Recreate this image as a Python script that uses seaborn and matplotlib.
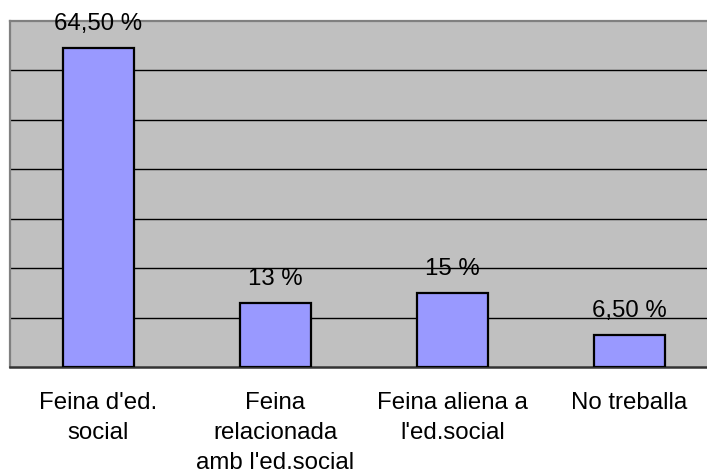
import matplotlib
matplotlib.use("Agg")
import matplotlib.pyplot as plt
import seaborn as sns
import pandas as pd

categories = ["Feina d'ed.\nsocial", "Feina\nrelacionada\namb l'ed.social",
              "Feina aliena a\nl'ed.social", "No treballa"]
values = [64.5, 13, 15, 6.5]
value_labels = ["64,50 %", "13 %", "15 %", "6,50 %"]

sns.set_style("white")
plt.rcParams['font.family'] = ['Liberation Sans', 'DejaVu Sans']
plt.rcParams['text.color'] = 'black'
plt.rcParams['xtick.color'] = 'black'
plt.rcParams['xtick.labelcolor'] = 'black'

fig = plt.figure(figsize=(7.07, 4.76), dpi=100)
ax = fig.add_axes([10/707, (476-367)/476, 708/707, 346/476])
ax.set_facecolor("#C0C0C0")

df = pd.DataFrame({"cat": categories, "val": values})
sns.barplot(data=df, x="cat", y="val", color="#9999FF", width=0.4,
            edgecolor="black", linewidth=1.6, saturation=1, ax=ax, zorder=3)

ax.set_xlim(-0.5, 3.5)
ax.set_ylim(0, 70)
ax.set_yticks(range(10, 70, 10))
ax.yaxis.grid(True, color="black", linewidth=1.0, zorder=1)
ax.set_axisbelow(True)
ax.tick_params(axis="y", left=False, labelleft=False)
ax.set_xlabel("")
ax.set_ylabel("")

ax.set_xticks(range(len(categories)))
ax.set_xticklabels(categories, fontsize=17.3, linespacing=1.47, color="black")
ax.tick_params(axis="x", which="major", length=0, pad=18)
ax.set_xticks([-0.5, 0.5, 1.5, 2.5, 3.5], minor=True)
ax.tick_params(axis="x", which="minor", length=5.5, width=1.2, color="#808080", direction="out")

for sp in ["left", "top", "right"]:
    ax.spines[sp].set_color("#808080")
    ax.spines[sp].set_linewidth(1.6)
ax.spines["bottom"].set_color("#333333")
ax.spines["bottom"].set_linewidth(1.8)

for i, (v, lab) in enumerate(zip(values, value_labels)):
    ax.annotate(lab, (i, v), xytext=(0, 9.5), textcoords="offset points",
                ha="center", va="bottom", fontsize=17.3, color="black", clip_on=False)

fig.savefig("out.png", dpi=100)
